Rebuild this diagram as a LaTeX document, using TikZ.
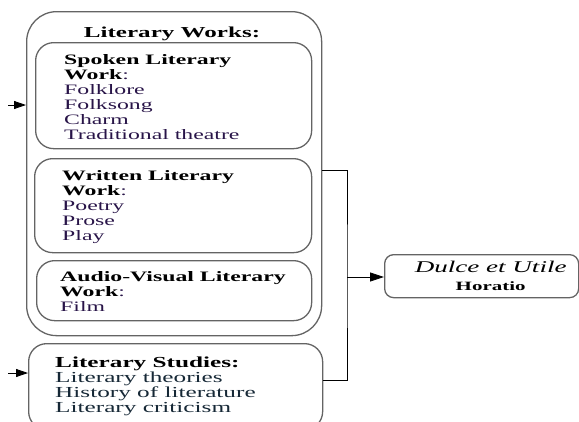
\documentclass[tikz,border=0pt]{standalone}
\usepackage{fontspec}
\setmainfont{Liberation Serif}[FakeStretch=1.65]
\usetikzlibrary{positioning,arrows.meta}

\definecolor{itemink}{RGB}{40,20,72}
\definecolor{studyink}{RGB}{22,40,54}
\definecolor{boxline}{RGB}{100,100,100}
\newcommand{\heading}[1]{\textcolor{black}{\bfseries #1}}

\begin{document}
\begin{tikzpicture}[x=1pt, y=-1pt,
    box/.style={draw=boxline, line width=1.3pt, rounded corners=18pt, inner sep=0pt, anchor=north west},
    txt/.style={anchor=north west, inner sep=0pt, align=left, text=itemink, font=\fontsize{14.4}{15}\selectfont},
    link/.style={draw=black, line width=0.8pt},
    tip/.style={-{Triangle[length=12pt, width=8pt]}}
]
  \useasboundingbox (0,0) rectangle (579,421);
  \clip (0,0) rectangle (579,421);

  % boxes
  \node[box, rounded corners=30pt, minimum width=295pt, minimum height=324pt] (works) at (26,11) {};
  \node[box, minimum width=276pt, minimum height=106pt] (spoken) at (35,42) {};
  \node[box, minimum width=277pt, minimum height=94pt] (written) at (34,158) {};
  \node[box, minimum width=275pt, minimum height=60pt] (audio) at (36,260) {};
  \node[box, minimum width=294pt, minimum height=86pt] (studies) at (28,343) {};
  \node[box, rounded corners=9pt, minimum width=194pt, minimum height=43pt] (dulce) at (384,254) {};

  % texts
  \node[anchor=base, inner sep=0pt, font=\bfseries\fontsize{15.2}{16}\selectfont] (workstitle) at (172,37.5) {Literary Works:};
  \node[txt] (spokentext) at (64,54) {\heading{Spoken Literary}\\\heading{Work}:\\Folklore\\Folksong\\Charm\\Traditional theatre};
  \node[txt] (writtentext) at (62,170) {\heading{Written Literary}\\\heading{Work}:\\Poetry\\Prose\\Play};
  \node[txt] (audiotext) at (60,271) {\heading{Audio-Visual Literary}\\\heading{Work}:\\Film};
  \node[txt, text=studyink, font=\fontsize{15.3}{15}\selectfont] (studiestext) at (55,357) {\heading{Literary Studies:}\\Literary theories\\History of literature\\Literary criticism};
  \node[align=center, inner sep=0pt, font=\fontsize{16.4}{18}\selectfont] (dulcetext) at ([xshift=9pt]dulce.center) {\textit{Dulce et Utile}\\{\bfseries\fontsize{12.7}{14}\selectfont Horatio}};

  % connectors
  \coordinate (fork) at (347,277);
  \coordinate (worksin) at (8,105);
  \coordinate (studiesin) at (8,373);
  \draw[link] ([yshift=3pt]works.east) -| (fork) |- ([yshift=6.5pt]studies.east);
  \draw[link, -{Triangle[length=14pt, width=9pt]}] (fork) -- (dulce.west |- fork);
  \draw[link, tip] (worksin) -- (works.west |- worksin);
  \draw[link, tip] (studiesin) -- (studies.west |- studiesin);
\end{tikzpicture}
\end{document}
